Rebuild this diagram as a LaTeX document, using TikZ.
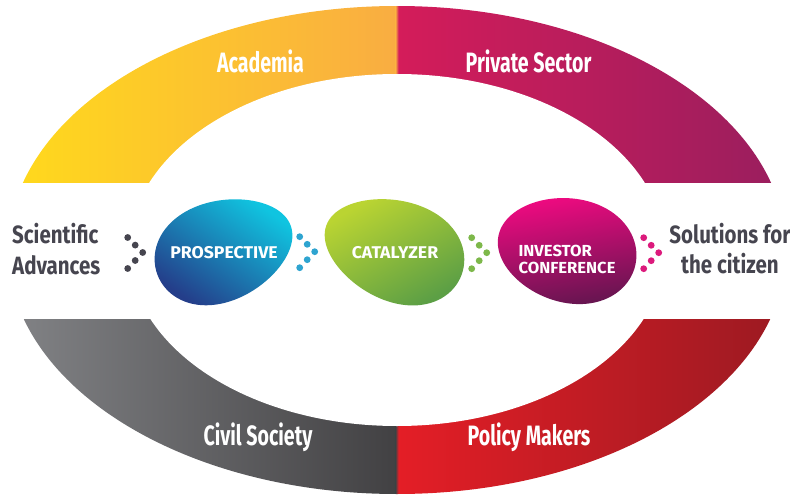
\documentclass[tikz,border=0pt]{standalone}
\usepackage{fontspec}
\newfontfamily\bandfont{Fira Sans}[FakeStretch=0.70]
\newfontfamily\sidefont{Fira Sans}[FakeStretch=0.82]
\newfontfamily\blobfont{Fira Sans}[FakeStretch=1.04]
\definecolor{acadL}{HTML}{FFD91C}
\definecolor{acadR}{HTML}{F9AD42}
\definecolor{privL}{HTML}{D41C5A}
\definecolor{privR}{HTML}{9A1E5E}
\definecolor{civL}{HTML}{818285}
\definecolor{civR}{HTML}{424143}
\definecolor{polL}{HTML}{E41E26}
\definecolor{polR}{HTML}{9C1A22}
\definecolor{darktext}{HTML}{46454F}
\definecolor{prosTop}{HTML}{10C4E0}
\definecolor{prosBot}{HTML}{243E8A}
\definecolor{catTop}{HTML}{BAD432}
\definecolor{catBot}{HTML}{5C9F45}
\definecolor{invTop}{HTML}{EE0A80}
\definecolor{invBot}{HTML}{661550}
\definecolor{dotBlue}{HTML}{2EA4D0}
\definecolor{dotGreen}{HTML}{7DB84A}
\definecolor{dotPink}{HTML}{DC1A7C}
\tikzset{
  bandlabel/.style={text=white, font=\bandfont\bfseries\fontsize{28}{30}\selectfont, inner sep=0pt, anchor=base},
  sidelabel/.style={text=darktext, font=\sidefont\bfseries\fontsize{25}{28}\selectfont, inner sep=0pt},
  bloblabel/.style={text=white, font=\blobfont\bfseries\fontsize{17}{19}\selectfont, inner sep=0pt},
  invlabel/.style={bloblabel, anchor=base west, font=\blobfont\bfseries\fontsize{16}{18}\selectfont}
}
% egg-shaped blob: centre x, centre y, half length, half width, egg factor, tilt (deg, anticlockwise)
\newcommand\blobpath[6]{plot[domain=0:356, samples=90, smooth cycle, variable=\t]
  ({#1 + (#3*cos(\t))*cos(#6) + (#4*sin(\t)*(1-#5*cos(\t)))*sin(#6)},
   {#2 - (#3*cos(\t))*sin(#6) + (#4*sin(\t)*(1-#5*cos(\t)))*cos(#6)})}
\newcommand\chevdots[3]{%
  \foreach \dx/\dy in {0/0, 7.5/7.6, 15/15, 7.5/23, 0/31}
    \fill[#3] (#1+\dx,#2+\dy) circle [radius=3.4pt];}
\begin{document}
\begin{tikzpicture}[x=1pt,y=-1pt]
\useasboundingbox (0,0) rectangle (790,495);
% ring bands
\begin{scope}
  \clip (397,250) ellipse [x radius=389pt, y radius=244pt];
  \shade[left color=acadL, right color=acadR] (15,0) rectangle (396,182);
  \shade[left color=privL, right color=privR] (398,0) rectangle (780,182);
  \shade[left color=acadR, right color=privL] (395.5,0) rectangle (398.5,182);
  \shade[left color=civL, right color=civR] (15,319) rectangle (396,500);
  \shade[left color=polL, right color=polR] (398,319) rectangle (780,500);
  \shade[left color=civR, right color=polL] (395.5,319) rectangle (398.5,500);
\end{scope}
\fill[white] (397,250) ellipse [x radius=268pt, y radius=176pt];
% band labels
\node[bandlabel] (acad) at (260.5,73) {Academia};
\node[bandlabel] (priv) at (528.5,73) {Private Sector};
\node[bandlabel] (civ) at (258,445.5) {Civil Society};
\node[bandlabel] (pol) at (529,445.5) {Policy Makers};
% blobs
\shade[top color=prosTop, bottom color=prosBot, shading angle=-35]
  \blobpath{224}{250}{71}{50}{0.12}{20};
\shade[top color=catTop, bottom color=catBot, shading angle=30]
  \blobpath{394}{250}{72}{50}{-0.12}{-20};
\shade[top color=invTop, bottom color=invBot, shading angle=10]
  \blobpath{567}{250}{70}{52}{-0.08}{-12};
% blob labels
\node[bloblabel, anchor=base] (pros) at (224,258.3) {PROSPECTIVE};
\node[bloblabel, anchor=base] (cat) at (395,258.3) {CATALYZER};
\node[invlabel] (inv1) at (518.3,256.7) {INVESTOR};
\node[invlabel] (inv2) at (518.3,273.3) {CONFERENCE};
% side labels
\node[sidelabel, anchor=base west] (sci1) at (12,243.3) {Scientific};
\node[sidelabel, anchor=base west] (sci2) at (12,274.3) {Advances};
\node[sidelabel, anchor=base] (sol1) at (730,243.3) {Solutions for};
\node[sidelabel, anchor=base] (sol2) at (730,273) {the citizen};
% dot chevrons
\chevdots{127.7}{237.5}{darktext}
\chevdots{299.7}{236.7}{dotBlue}
\chevdots{471.7}{237.7}{dotGreen}
\chevdots{643.7}{237.7}{dotPink}
\end{tikzpicture}
\end{document}
